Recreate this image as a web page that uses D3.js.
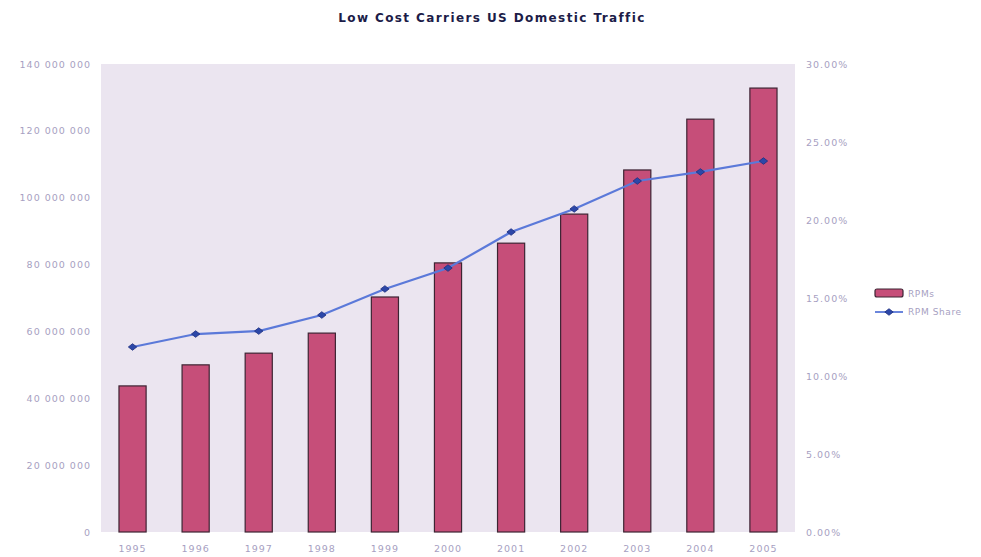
<!DOCTYPE html>
<html>
<head>
<meta charset="utf-8">
<script src="https://cdn.jsdelivr.net/npm/d3@7"></script>
<style>
  html, body { margin: 0; padding: 0; background: #ffffff; }
  svg { display: block; }
  text { font-family: "DejaVu Sans", Verdana, sans-serif; }
</style>
</head>
<body>
<svg id="chart" width="981" height="557"></svg>
<script>
// Low cost carriers, US domestic traffic, 1995-2005
const years = ["1995", "1996", "1997", "1998", "1999", "2000", "2001", "2002", "2003", "2004", "2005"];
// Revenue passenger miles
const rpms = [43700000, 50000000, 53500000, 59500000, 70300000, 80500000, 86400000, 95100000, 108300000, 123500000, 132800000];
// Share of domestic RPMs (%)
const rpmShare = [11.86, 12.69, 12.88, 13.91, 15.58, 16.92, 19.23, 20.71, 22.50, 23.08, 23.78];
const leftTicks = [0, 20000000, 40000000, 60000000, 80000000, 100000000, 120000000, 140000000];
const rightTicks = [0, 5, 10, 15, 20, 25, 30];
const seriesNames = ["RPMs", "RPM Share"];
const title = "Low Cost Carriers US Domestic Traffic";

const svg = d3.select("#chart");
const plot = { left: 101, right: 795, top: 64, bottom: 532 };

const x = d3.scaleBand().domain(years).range([plot.left, plot.right]).padding(0);
const yL = d3.scaleLinear().domain([0, 140000000]).range([plot.bottom, plot.top]);
const yR = d3.scaleLinear().domain([0, 30]).range([plot.bottom, plot.top]);

const labelColor = "#a79fc2";
const barFill = "#c64e79";
const barStroke = "#3d2433";
const lineColor = "#5b79d9";
const markerFill = "#2c47a8";

// title
svg.append("text")
  .attr("x", 492).attr("y", 22)
  .attr("text-anchor", "middle")
  .attr("font-size", 12).attr("font-weight", "bold")
  .attr("letter-spacing", 1.4)
  .attr("fill", "#1c1c48")
  .text(title);

// plot background
svg.append("rect")
  .attr("x", plot.left).attr("y", plot.top)
  .attr("width", plot.right - plot.left).attr("height", plot.bottom - plot.top)
  .attr("fill", "#ebe5f0");

function styleAxisText(g) {
  g.select(".domain").remove();
  g.selectAll("text").attr("fill", labelColor).attr("font-size", 9.5)
    .attr("letter-spacing", 1).style("font-family", "DejaVu Sans, sans-serif");
}

// left axis
const fmtL = d => d3.format(",")(d).replace(/,/g, " ");
svg.append("g")
  .attr("transform", `translate(${plot.left},0)`)
  .call(d3.axisLeft(yL).tickValues(leftTicks).tickFormat(fmtL).tickSize(0).tickPadding(10))
  .call(styleAxisText);

// right axis
svg.append("g")
  .attr("transform", `translate(${plot.right},0)`)
  .call(d3.axisRight(yR).tickValues(rightTicks).tickFormat(d => d.toFixed(2) + "%").tickSize(0).tickPadding(11))
  .call(styleAxisText);

// bottom axis
svg.append("g")
  .attr("transform", `translate(0,${plot.bottom})`)
  .call(d3.axisBottom(x).tickSize(0).tickPadding(13))
  .call(styleAxisText);

// bars
const barW = x.bandwidth() * 0.43;
svg.append("g").selectAll("rect")
  .data(rpms)
  .join("rect")
  .attr("x", (d, i) => x(years[i]) + x.bandwidth() / 2 - barW / 2)
  .attr("y", d => yL(d))
  .attr("width", barW)
  .attr("height", d => yL(0) - yL(d))
  .attr("fill", barFill)
  .attr("stroke", barStroke)
  .attr("stroke-width", 1.2);

// share line
const line = d3.line()
  .x((d, i) => x(years[i]) + x.bandwidth() / 2)
  .y(d => yR(d));
svg.append("path")
  .datum(rpmShare)
  .attr("d", line)
  .attr("fill", "none")
  .attr("stroke", lineColor)
  .attr("stroke-width", 2.2);

// diamond marker, slightly wider than tall
const diamond = d3.symbol().type(d3.symbolDiamond2).size(34);
function addMarker(sel) {
  return sel.append("path")
    .attr("d", diamond)
    .attr("fill", markerFill)
    .attr("stroke", "#1d2f80")
    .attr("stroke-width", 0.8);
}
svg.append("g").selectAll("g")
  .data(rpmShare)
  .join("g")
  .attr("transform", (d, i) => `translate(${x(years[i]) + x.bandwidth() / 2},${yR(d)}) scale(1.15,0.9)`)
  .call(addMarker);

// legend
const lg = svg.append("g");
lg.append("rect")
  .attr("x", 875).attr("y", 289).attr("width", 28).attr("height", 8)
  .attr("rx", 2)
  .attr("fill", barFill).attr("stroke", barStroke).attr("stroke-width", 1.2);
lg.append("text").attr("x", 908).attr("y", 297)
  .attr("font-size", 9).attr("fill", labelColor).attr("letter-spacing", 0.6)
  .text(seriesNames[0]);
lg.append("line")
  .attr("x1", 875).attr("x2", 903).attr("y1", 312).attr("y2", 312)
  .attr("stroke", lineColor).attr("stroke-width", 1.8);
lg.append("g")
  .attr("transform", "translate(889,312) scale(1.15,0.9)")
  .call(addMarker);
lg.append("text").attr("x", 908).attr("y", 315)
  .attr("font-size", 9).attr("fill", labelColor).attr("letter-spacing", 0.6)
  .text(seriesNames[1]);
</script>
</body>
</html>
